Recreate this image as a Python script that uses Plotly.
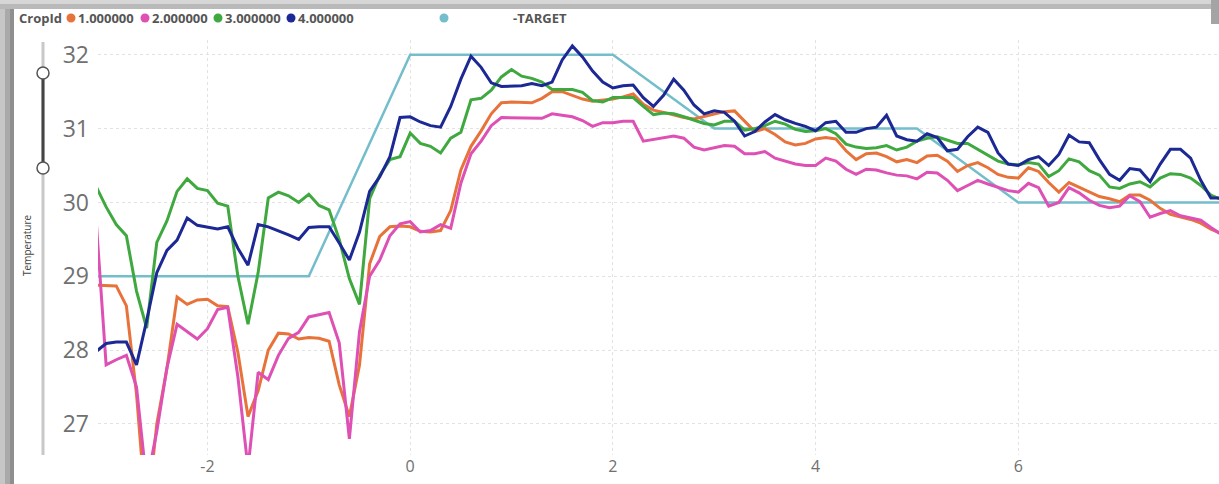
import plotly.graph_objects as go

# time axis (hours relative to event), 0.1 h steps
hours = [
    -3.1, -3.0, -2.9, -2.8, -2.7, -2.6, -2.5, -2.4, -2.3, -2.2,
    -2.1, -2.0, -1.9, -1.8, -1.7, -1.6, -1.5, -1.4, -1.3, -1.2,
    -1.1, -1.0, -0.9, -0.8, -0.7, -0.6, -0.5, -0.4, -0.3, -0.2,
    -0.1, 0.0, 0.1, 0.2, 0.3, 0.4, 0.5, 0.6, 0.7, 0.8,
    0.9, 1.0, 1.1, 1.2, 1.3, 1.4, 1.5, 1.6, 1.7, 1.8,
    1.9, 2.0, 2.1, 2.2, 2.3, 2.4, 2.5, 2.6, 2.7, 2.8,
    2.9, 3.0, 3.1, 3.2, 3.3, 3.4, 3.5, 3.6, 3.7, 3.8,
    3.9, 4.0, 4.1, 4.2, 4.3, 4.4, 4.5, 4.6, 4.7, 4.8,
    4.9, 5.0, 5.1, 5.2, 5.3, 5.4, 5.5, 5.6, 5.7, 5.8,
    5.9, 6.0, 6.1, 6.2, 6.3, 6.4, 6.5, 6.6, 6.7, 6.8,
    6.9, 7.0, 7.1, 7.2, 7.3, 7.4, 7.5, 7.6, 7.7, 7.8,
    7.9, 8.0,
]

crop1 = [
    28.88, 28.88, 28.87, 28.6, 27.4, 25.7, 27.0, 27.75, 28.72, 28.62,
    28.68, 28.69, 28.6, 28.59, 27.97, 27.1, 27.45, 28.0, 28.23, 28.22,
    28.15, 28.17, 28.16, 28.12, 27.53, 27.1, 27.8, 29.17, 29.54, 29.67,
    29.68, 29.67, 29.61, 29.6, 29.62, 29.89, 30.44, 30.76, 30.97, 31.2,
    31.35, 31.36, 31.35, 31.35, 31.41, 31.5, 31.5, 31.45, 31.4, 31.37,
    31.38, 31.4, 31.43, 31.47, 31.33, 31.25, 31.22, 31.18, 31.15, 31.13,
    31.16, 31.19, 31.23, 31.24, 31.1, 30.96, 31.0, 30.92, 30.82, 30.78,
    30.8, 30.86, 30.88, 30.86, 30.7, 30.58, 30.66, 30.67, 30.62, 30.55,
    30.58, 30.54, 30.63, 30.64, 30.56, 30.42, 30.5, 30.54, 30.47, 30.38,
    30.34, 30.33, 30.47, 30.42, 30.27, 30.14, 30.27, 30.21, 30.14, 30.08,
    30.05, 30.01, 30.1, 30.1, 30.03, 29.92, 29.84, 29.81, 29.77, 29.72,
    29.64, 29.58,
]

crop2 = [
    29.8, 27.8, 27.87, 27.93, 27.5, 26.2, 26.9, 27.76, 28.35, 28.25,
    28.15, 28.29, 28.55, 28.58, 27.64, 26.4, 27.7, 27.6, 27.93, 28.16,
    28.24, 28.45, 28.48, 28.51, 28.1, 26.8, 28.25, 29.0, 29.22, 29.55,
    29.71, 29.74, 29.6, 29.62, 29.7, 29.65, 30.26, 30.66, 30.83, 31.04,
    31.15, 31.15, 31.15, 31.15, 31.14, 31.2, 31.18, 31.16, 31.11, 31.03,
    31.08, 31.08, 31.1, 31.1, 30.83, 30.85, 30.88, 30.9, 30.87, 30.75,
    30.71, 30.74, 30.77, 30.76, 30.66, 30.66, 30.69, 30.6, 30.56, 30.52,
    30.5, 30.5, 30.6, 30.56, 30.45, 30.38, 30.45, 30.44, 30.4, 30.37,
    30.36, 30.32, 30.41, 30.4, 30.3, 30.16, 30.23, 30.3, 30.25, 30.2,
    30.16, 30.14, 30.26, 30.2, 29.95, 30.0, 30.2, 30.13, 30.03, 29.96,
    29.93, 29.95, 30.09, 30.01, 29.8, 29.85, 29.89, 29.82, 29.79, 29.76,
    29.66, 29.57,
]

crop3 = [
    30.22, 29.94, 29.7, 29.55, 28.8, 28.3, 29.46, 29.75, 30.15, 30.32,
    30.19, 30.16, 29.99, 29.95, 29.0, 28.35, 29.05, 30.06, 30.14, 30.09,
    30.0, 30.11, 29.96, 29.9, 29.5, 28.97, 28.62, 30.05, 30.37, 30.58,
    30.62, 30.94, 30.8, 30.76, 30.67, 30.87, 30.95, 31.39, 31.41, 31.52,
    31.7, 31.8, 31.71, 31.68, 31.63, 31.53, 31.53, 31.53, 31.49, 31.38,
    31.36, 31.42, 31.42, 31.42, 31.3, 31.19, 31.21, 31.2, 31.16, 31.11,
    31.07, 31.05, 31.1, 31.1, 30.98, 31.0, 31.04, 31.1, 31.06, 30.99,
    30.96, 30.97, 31.0, 30.93, 30.79, 30.75, 30.73, 30.74, 30.77, 30.71,
    30.75, 30.83, 30.87, 30.89, 30.84, 30.8, 30.8, 30.72, 30.63, 30.56,
    30.52, 30.51, 30.54, 30.52, 30.35, 30.43, 30.59, 30.55, 30.43, 30.37,
    30.21, 30.19, 30.25, 30.28, 30.21, 30.33, 30.39, 30.38, 30.33, 30.23,
    30.1, 30.04,
]

crop4 = [
    27.98, 28.09, 28.11, 28.11, 27.8, 28.4, 29.05, 29.35, 29.49, 29.79,
    29.69, 29.66, 29.64, 29.67, 29.38, 29.15, 29.7, 29.67, 29.62, 29.56,
    29.5, 29.66, 29.67, 29.67, 29.45, 29.22, 29.6, 30.15, 30.35, 30.62,
    31.15, 31.16, 31.09, 31.04, 31.02, 31.3, 31.67, 31.98, 31.83, 31.62,
    31.57, 31.57, 31.58, 31.61, 31.58, 31.63, 31.93, 32.12, 31.97, 31.78,
    31.63, 31.55, 31.58, 31.59, 31.42, 31.3, 31.45, 31.67, 31.52, 31.32,
    31.2, 31.24, 31.22, 31.1, 30.9, 30.96, 31.09, 31.19, 31.12, 31.07,
    31.03, 30.97, 31.08, 31.1, 30.95, 30.95, 31.0, 31.02, 31.18, 30.9,
    30.85, 30.83, 30.93, 30.88, 30.7, 30.72, 30.89, 31.02, 30.95, 30.67,
    30.52, 30.5, 30.58, 30.62, 30.5, 30.65, 30.91, 30.82, 30.81, 30.58,
    30.38, 30.3, 30.46, 30.44, 30.28, 30.52, 30.72, 30.72, 30.6, 30.3,
    30.06, 30.06,
]

target_hours = [-3.1, -1, 0, 2, 3, 5, 6, 8]
target_temp = [29, 29, 32, 32, 31, 31, 30, 30]

x_ticks = [-2, 0, 2, 4, 6]
x_tick_text = ["-2", "0", "2", "4", "6"]

crop_names = ["1.000000", "2.000000", "3.000000", "4.000000"]
crop_colors = ["#E8733A", "#DE50B4", "#3FA83F", "#1C2894"]
target_color = "#74BDCB"

fig = go.Figure()
fig.add_trace(go.Scatter(x=target_hours, y=target_temp, mode="lines", name="-TARGET",
                         line=dict(color=target_color, width=2.5)))
for name, vals, col in zip(crop_names, [crop1, crop2, crop3, crop4], crop_colors):
    fig.add_trace(go.Scatter(x=hours, y=vals, mode="lines", name=name,
                             line=dict(color=col, width=3)))

# plot-area geometry in pixels (used to place decorations)
L, T, B = 98, 40, 29
W, H = 1219, 484
ph = H - T - B
pw = W - L


def px_x(px):
    return (px - L) / pw


def px_y(py):
    return (H - B - py) / ph


shapes = []
# window shadow on the left and top
for x0, x1, c in [(0, 5, "#c6c6c6"), (5, 10, "#a9a9a9"), (10, 14, "#8f8f8f")]:
    shapes.append(dict(type="rect", xref="paper", yref="paper", x0=px_x(x0), x1=px_x(x1),
                       y0=px_y(H), y1=px_y(0), fillcolor=c, line_width=0, layer="below"))
for y0, y1, c in [(0, 4, "#d6d6d6"), (4, 9, "#b9b9b9")]:
    shapes.append(dict(type="rect", xref="paper", yref="paper", x0=px_x(0), x1=px_x(W),
                       y0=px_y(y1), y1=px_y(y0), fillcolor=c, line_width=0, layer="below"))
shapes.append(dict(type="rect", xref="paper", yref="paper", x0=px_x(1211), x1=px_x(W),
                   y0=px_y(24), y1=px_y(0), fillcolor="#a4a4a4", line_width=0, layer="below"))

# range slider on the y axis
shapes.append(dict(type="line", xref="paper", yref="paper", x0=px_x(43), x1=px_x(43),
                   y0=px_y(455), y1=px_y(42), line=dict(color="#c8c8c8", width=3)))
shapes.append(dict(type="line", xref="paper", yref="paper", x0=px_x(43), x1=px_x(43),
                   y0=px_y(168), y1=px_y(73), line=dict(color="#444444", width=3)))
for cy in [73, 168]:
    shapes.append(dict(type="circle", xref="paper", yref="paper",
                       x0=px_x(43 - 6), x1=px_x(43 + 6), y0=px_y(cy + 6), y1=px_y(cy - 6),
                       fillcolor="white", line=dict(color="#555555", width=1.5)))

# legend dots
for cx, col in zip([71, 145, 218, 291, 444], crop_colors + [target_color]):
    shapes.append(dict(type="circle", xref="paper", yref="paper",
                       x0=px_x(cx - 4.5), x1=px_x(cx + 4.5), y0=px_y(18 + 4.5), y1=px_y(18 - 4.5),
                       fillcolor=col, line_width=0))

legend_font = dict(family="Segoe UI, Open Sans, sans-serif", size=13, color="#555555")
annotations = [
    dict(text="<b>CropId</b>", x=px_x(17), y=px_y(18)),
    dict(text="<b>1.000000</b>", x=px_x(76), y=px_y(18)),
    dict(text="<b>2.000000</b>", x=px_x(150), y=px_y(18)),
    dict(text="<b>3.000000</b>", x=px_x(223), y=px_y(18)),
    dict(text="<b>4.000000</b>", x=px_x(296), y=px_y(18)),
    dict(text="<b>-TARGET</b>", x=px_x(511), y=px_y(18)),
]
for a in annotations:
    a.update(xref="paper", yref="paper", xanchor="left", yanchor="middle",
             showarrow=False, font=legend_font)
annotations.append(dict(text="Temperature", xref="paper", yref="paper", x=px_x(27), y=px_y(245),
                        textangle=-90, showarrow=False, xanchor="center", yanchor="middle",
                        font=dict(family="Segoe UI, Open Sans, sans-serif", size=10, color="#444444")))

fig.update_layout(
    width=W, height=H,
    margin=dict(l=L, r=0, t=T, b=B, pad=0),
    paper_bgcolor="white", plot_bgcolor="white",
    showlegend=False,
    shapes=shapes,
    annotations=annotations,
    font=dict(family="Segoe UI, Open Sans, sans-serif"),
)
fig.update_xaxes(range=[-3.08, 7.98], tickvals=x_ticks, ticktext=x_tick_text, showgrid=True,
                 gridcolor="#e2e2e2", griddash="dot", zeroline=False, showline=False,
                 tickfont=dict(size=16, color="#707070"))
fig.update_yaxes(range=[26.58, 32.2], dtick=1, showgrid=True, gridcolor="#e2e2e2",
                 griddash="dot", zeroline=False, showline=False, ticklabelstandoff=8,
                 tickfont=dict(size=23, color="#707070"))

# drop the page's default body margin so the figure sits at the window origin
fig.write_html("out.html", config={"displayModeBar": False},
               post_script="document.body.style.margin='0';document.body.style.overflow='hidden';")
